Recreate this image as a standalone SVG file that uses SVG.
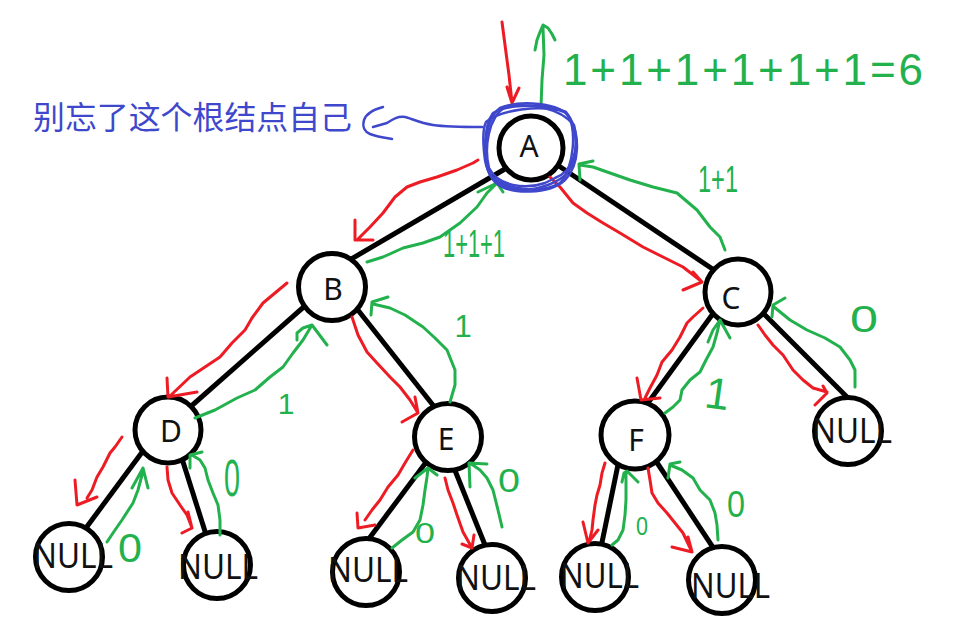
<svg xmlns="http://www.w3.org/2000/svg" width="957" height="622" viewBox="0 0 957 622">
<style>
.edge{stroke:#000;stroke-width:5;stroke-linecap:butt}
.node{fill:#fff;stroke:#000;stroke-width:5}
.lbl{font-family:"Noto Sans","Liberation Sans",sans-serif;font-size:30px;fill:#111;text-anchor:middle}
.nul{font-family:"Noto Sans","Liberation Sans",sans-serif;font-size:34px;fill:#111}
.r{fill:none;stroke:#ED1C24;stroke-width:3;stroke-linecap:round;stroke-linejoin:round}
.g{fill:none;stroke:#22B14C;stroke-width:3;stroke-linecap:round;stroke-linejoin:round}
.b{fill:none;stroke:#3F48CC;stroke-width:2.5;stroke-linecap:round;stroke-linejoin:round}
.gt{font-family:"Liberation Sans",sans-serif;fill:#22B14C;text-anchor:middle}
.bt{font-family:"Noto Sans CJK SC","Noto Sans CJK JP",sans-serif;font-size:32px;fill:#3F48CC}
</style>
<rect width="957" height="622" fill="#fff"/>
<g id="connectors">
<line class="edge" x1="510" y1="166" x2="340" y2="265.6"/>
<line class="edge" x1="550" y1="160" x2="720" y2="274"/>
<line class="edge" x1="315" y1="297" x2="180" y2="416"/>
<line class="edge" x1="350" y1="300" x2="440" y2="414"/>
<line class="edge" x1="150" y1="441.5" x2="80" y2="536"/>
<line class="edge" x1="178" y1="446" x2="209" y2="544"/>
<line class="edge" x1="430" y1="457" x2="362" y2="548"/>
<line class="edge" x1="450" y1="458" x2="487" y2="550"/>
<line class="edge" x1="720" y1="304" x2="645" y2="407"/>
<line class="edge" x1="755" y1="305" x2="850" y2="400"/>
<line class="edge" x1="620" y1="455" x2="599" y2="557"/>
<line class="edge" x1="650" y1="452" x2="718" y2="555"/>
</g>
<g id="node-A"><circle class="node" cx="531" cy="148" r="32"/><text class="lbl" x="529" y="157">A</text></g>
<g id="node-B"><circle class="node" cx="332" cy="287" r="33.5"/><text class="lbl" x="333" y="300">B</text></g>
<g id="node-C"><circle class="node" cx="738" cy="292" r="33"/><text class="lbl" x="731" y="309">C</text></g>
<g id="node-D"><circle class="node" cx="168" cy="430" r="33"/><text class="lbl" x="171" y="442">D</text></g>
<g id="node-E"><circle class="node" cx="448" cy="437" r="33.5"/><text class="lbl" x="446" y="450">E</text></g>
<g id="node-F"><circle class="node" cx="635" cy="435" r="34"/><text class="lbl" x="636" y="451">F</text></g>
<g id="node-NULL1"><circle class="node" cx="69" cy="557" r="33.5"/><text class="nul" x="33" y="568" textLength="80" lengthAdjust="spacingAndGlyphs">NULL</text></g>
<g id="node-NULL2"><circle class="node" cx="217" cy="565" r="33.5"/><text class="nul" x="178" y="579" textLength="80" lengthAdjust="spacingAndGlyphs">NULL</text></g>
<g id="node-NULL3"><circle class="node" cx="366" cy="572" r="33.5"/><text class="nul" x="328" y="582" textLength="80" lengthAdjust="spacingAndGlyphs">NULL</text></g>
<g id="node-NULL4"><circle class="node" cx="492" cy="578" r="33.5"/><text class="nul" x="456" y="590" textLength="80" lengthAdjust="spacingAndGlyphs">NULL</text></g>
<g id="node-NULL5"><circle class="node" cx="595" cy="577" r="33.5"/><text class="nul" x="560" y="588" textLength="79" lengthAdjust="spacingAndGlyphs">NULL</text></g>
<g id="node-NULL6"><circle class="node" cx="722" cy="580" r="33.5"/><text class="nul" x="691" y="598" textLength="79" lengthAdjust="spacingAndGlyphs">NULL</text></g>
<g id="node-NULL7"><circle class="node" cx="848" cy="431" r="33.5"/><text class="nul" x="812" y="443" textLength="80" lengthAdjust="spacingAndGlyphs">NULL</text></g>
<g id="red-arrows">
<path class="r" d="M502,22 L505,45 L509,75 L512,103 M507,87 L512,103 L519,88"/>
<path class="r" d="M478,160 L473,163 L457,170 L437,177 L420,182 L407,187 L395,197 L383,213 L370,227 L358,239 M355,220 L355,240 L373,240"/>
<path class="r" d="M550,177 L560,187 L573,203 L587,213 L603,223 L620,233 L643,247 L663,257 L683,267 L701,281 M693,272 L702,282 L683,290"/>
<path class="r" d="M287,283 L275,293 L263,303 L252,318 L245,330 L232,343 L220,357 L205,367 L190,377 L170,396 M167,378 L168,397 L197,392"/>
<path class="r" d="M352,317 L358,335 L367,352 L377,363 L390,377 L400,387 L410,400 L418,413 M415,397 L418,413 L402,422"/>
<path class="r" d="M122,437 L115,447 L110,453 L103,467 L97,477 L92,490 L87,498 M75,480 L77,505 L97,497"/>
<path class="r" d="M167,467 L168,480 L172,493 L180,505 L187,515 L192,528 M188,512 L192,528 L182,533"/>
<path class="r" d="M413,450 L405,463 L398,475 L388,487 L380,500 L372,510 L365,520 M357,513 L358,528 L375,525"/>
<path class="r" d="M445,478 L448,490 L453,503 L457,515 L463,532 L472,548 M462,544 L472,548 L474,535"/>
<path class="r" d="M703,308 L693,317 L687,323 L680,337 L672,350 L662,362 L657,375 L650,388 L645,398 M637,378 L641,400 L660,398"/>
<path class="r" d="M758,325 L765,335 L773,345 L783,355 L793,370 L803,380 L813,388 L827,392 M823,386 L827,393 L815,405"/>
<path class="r" d="M605,463 L602,473 L600,485 L597,495 L595,505 L593,520 L592,530 L589,542 M583,522 L588,543 L598,530"/>
<path class="r" d="M648,468 L650,480 L652,493 L658,503 L667,513 L675,523 L683,533 L692,552 M672,547 L692,552 L688,537"/>
</g>
<g id="green-arrows">
<path class="g" d="M541,107 L542,80 L544,55 L543,28 M535,50 L537,40 L540,32 L543,25 L548,28 L552,34 L555,40"/>
<path class="g" d="M367,262 L383,257 L403,248 L423,243 L440,237 L460,223 L477,207 L487,193 L497,183 M478,192 L497,183 L503,192"/>
<path class="g" d="M725,250 L720,237 L710,227 L697,210 L677,193 L653,187 L630,180 L610,173 L593,167 L580,165 M580,180 L579,164 L593,161"/>
<path class="g" d="M195,418 L215,410 L237,398 L255,390 L270,377 L283,367 L293,353 L303,340 L312,325 M297,340 L297,333 L303,328 L312,325 L327,345"/>
<path class="g" d="M450,402 L455,385 L455,370 L447,350 L435,338 L423,327 L405,315 L390,308 L373,304 M371,315 L372,302 L388,297"/>
<path class="g" d="M107,542 L115,530 L122,520 L133,503 L138,490 L142,475 L143,468 M132,488 L143,468 L148,488"/>
<path class="g" d="M220,535 L220,520 L218,505 L213,493 L208,480 L205,468 L200,460 L192,455 M190,468 L190,455 L202,452"/>
<path class="g" d="M392,548 L402,540 L413,532 L420,520 L423,505 L425,490 L427,477 L428,468 M415,478 L428,468 L437,475"/>
<path class="g" d="M502,527 L498,510 L493,490 L487,478 L480,470 L470,463 M470,487 L469,463 L487,464"/>
<path class="g" d="M665,413 L673,407 L680,400 L682,390 L690,380 L700,372 L706,360 L713,347 L717,333 L720,320 M708,342 L713,330 L720,320 L730,338"/>
<path class="g" d="M855,387 L855,370 L850,360 L840,347 L825,338 L807,330 L790,320 L774,307 M772,317 L773,305 L785,298"/>
<path class="g" d="M612,545 L618,540 L623,530 L625,515 L626,500 L626,485 L626,473 M622,482 L624,473 L627,471 L638,482"/>
<path class="g" d="M718,540 L717,525 L715,513 L710,500 L700,490 L693,478 L682,470 L670,465 M668,478 L670,464 L680,462"/>
</g>
<g id="green-labels">
<text class="gt" x="743" y="85" font-size="44" textLength="360" lengthAdjust="spacing">1+1+1+1+1+1=6</text>
<text class="gt" x="474" y="257" font-size="38" textLength="62" lengthAdjust="spacingAndGlyphs">1+1+1</text>
<text class="gt" x="718" y="192" font-size="37" textLength="40" lengthAdjust="spacingAndGlyphs">1+1</text>
<text class="gt" x="463" y="337" font-size="31">1</text>
<text class="gt" x="286" y="414" font-size="30">1</text>
<text class="gt" x="718" y="409" font-size="44" transform="rotate(8 718 390)">1</text>
<text class="gt" x="130" y="562" font-size="40" textLength="24" lengthAdjust="spacingAndGlyphs">0</text>
<text class="gt" x="232" y="496" font-size="52" textLength="16" lengthAdjust="spacingAndGlyphs">0</text>
<text class="gt" x="425" y="543" font-size="29" textLength="20" lengthAdjust="spacingAndGlyphs">0</text>
<text class="gt" x="509" y="492" font-size="33" textLength="22" lengthAdjust="spacingAndGlyphs">0</text>
<text class="gt" x="864" y="332" font-size="36" textLength="28" lengthAdjust="spacingAndGlyphs">0</text>
<text class="gt" x="736" y="517" font-size="37" textLength="18" lengthAdjust="spacingAndGlyphs">0</text>
<text class="gt" x="642" y="535" font-size="25" textLength="12" lengthAdjust="spacingAndGlyphs">0</text>
</g>
<g id="note">
<path class="b" d="M500,108 C520,100 560,102 570,118 C580,135 580,165 565,180 C550,194 510,196 495,182 C480,168 483,120 500,108 Z"/>
<path class="b" d="M493,113 C510,103 548,104 566,112 C578,125 574,170 560,183 C540,194 505,190 490,175 C482,160 484,125 493,113 Z"/>
<path class="b" d="M505,107 C530,102 560,108 574,125 C580,150 572,172 555,178 L545,183 C525,190 498,186 489,168 C484,148 488,118 505,107 Z"/>
<path class="b" d="M486,122 C500,110 540,104 565,112 C580,128 578,160 568,172 C560,182 540,190 520,190 C500,188 488,178 485,160 C483,145 482,130 486,122 Z"/>
<path class="b" d="M482,127 C460,127 440,126 433,125 C420,123 410,118 405,117 C398,116 393,119 387,123 L373,127 M383,107 C372,110 366,114 364,120 C362,127 365,132 370,134 C378,137 386,138 392,139"/>
<text class="bt" x="33" y="129" textLength="319" lengthAdjust="spacingAndGlyphs">别忘了这个根结点自己</text>
</g>
</svg>
